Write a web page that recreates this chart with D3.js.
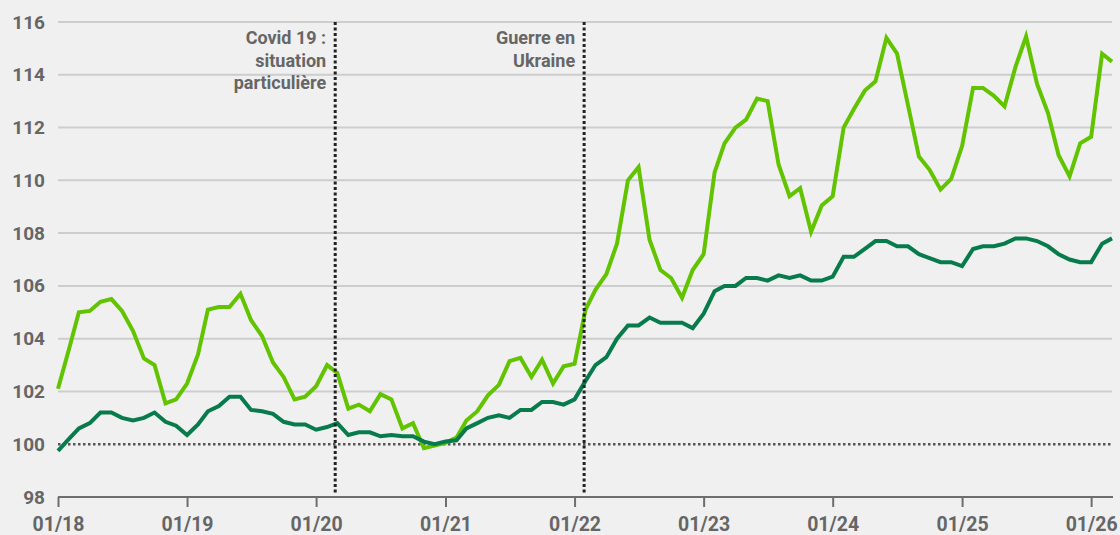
<!DOCTYPE html>
<html>
<head>
<meta charset="utf-8">
<script src="https://cdn.jsdelivr.net/npm/d3@7"></script>
<style>
  html, body { margin: 0; padding: 0; background: #f0f0f0; }
  svg { display: block; font-family: Roboto, "Noto Sans", sans-serif; }
</style>
</head>
<body>
<div id="chart"></div>
<script>
// monthly index values, 01/2018 -> 03/2026
var startMonth = new Date(2018, 0, 1);
var endMonth = new Date(2026, 2, 1);

var lightSeries = [
  102.1, 103.6, 105.0, 105.05, 105.4, 105.5, 105.05, 104.3, 103.25, 103.0,
  101.55, 101.7, 102.3, 103.4, 105.1, 105.2, 105.2, 105.7, 104.7, 104.1,
  103.1, 102.55, 101.7, 101.8, 102.2, 103.0, 102.7, 101.35, 101.5, 101.25,
  101.9, 101.7, 100.6, 100.8, 99.85, 99.95, 100.05, 100.25, 100.9, 101.25,
  101.85, 102.25, 103.15, 103.27, 102.55, 103.2, 102.3, 102.95, 103.05, 105.1,
  105.85, 106.45, 107.6, 110.0, 110.5, 107.75, 106.6, 106.3, 105.55, 106.6,
  107.2, 110.3, 111.4, 112.0, 112.3, 113.1, 113.0, 110.6, 109.4, 109.7,
  108.05, 109.05, 109.4, 112.0, 112.7, 113.4, 113.75, 115.4, 114.8, 112.85,
  110.9, 110.4, 109.65, 110.05, 111.3, 113.5, 113.5, 113.2, 112.8, 114.3,
  115.45, 113.65, 112.55, 110.95, 110.15, 111.4, 111.65, 114.8, 114.5
];

var darkSeries = [
  99.75, 100.2, 100.6, 100.8, 101.2, 101.2, 101.0, 100.9, 101.0, 101.2,
  100.85, 100.7, 100.35, 100.75, 101.25, 101.45, 101.8, 101.8, 101.3, 101.25,
  101.15, 100.85, 100.75, 100.75, 100.55, 100.65, 100.8, 100.35, 100.45, 100.45,
  100.3, 100.35, 100.3, 100.3, 100.1, 100.0, 100.1, 100.15, 100.6, 100.8,
  101.0, 101.1, 101.0, 101.3, 101.3, 101.6, 101.6, 101.5, 101.7, 102.4,
  103.0, 103.3, 104.0, 104.5, 104.5, 104.8, 104.6, 104.6, 104.6, 104.4,
  104.95, 105.8, 106.0, 106.0, 106.3, 106.3, 106.2, 106.4, 106.3, 106.4,
  106.2, 106.2, 106.35, 107.1, 107.1, 107.4, 107.7, 107.7, 107.5, 107.5,
  107.2, 107.05, 106.9, 106.9, 106.75, 107.4, 107.5, 107.5, 107.6, 107.8,
  107.8, 107.7, 107.5, 107.2, 107.0, 106.9, 106.9, 107.6, 107.8
];

var yTicks = [98, 100, 102, 104, 106, 108, 110, 112, 114, 116];
var xTickYears = [2018, 2019, 2020, 2021, 2022, 2023, 2024, 2025, 2026];

var events = [
  { date: new Date(2020, 1, 24), lines: ["Covid 19 :", "situation", "particulière"] },
  { date: new Date(2022, 0, 28), lines: ["Guerre en", "Ukraine"] }
];

var width = 1120, height = 535;
var mLeft = 58, mRight = 1112, mTop = 22, mBottom = 497;

var months = d3.timeMonth.range(startMonth, d3.timeMonth.offset(endMonth, 1));

var x = d3.scaleTime().domain([startMonth, endMonth]).range([mLeft, mRight]);
var y = d3.scaleLinear().domain([98, 116]).range([mBottom, mTop]);

var svg = d3.select("#chart").append("svg")
    .attr("width", width)
    .attr("height", height);

svg.append("rect")
    .attr("width", width).attr("height", height)
    .attr("fill", "#f0f0f0");

// horizontal grid
svg.append("g").selectAll("line")
    .data(yTicks.filter(function(d) { return d > 100; }))
    .enter().append("line")
    .attr("x1", mLeft).attr("x2", mRight)
    .attr("y1", function(d) { return y(d); })
    .attr("y2", function(d) { return y(d); })
    .attr("stroke", "#cdcdcd")
    .attr("stroke-width", 2);

// base 100
svg.append("line")
    .attr("x1", mLeft).attr("x2", mRight)
    .attr("y1", y(100)).attr("y2", y(100))
    .attr("stroke", "#555")
    .attr("stroke-width", 2.5)
    .attr("stroke-dasharray", "2.5 2.5");

// y labels
var yAxis = d3.axisLeft(y).tickValues(yTicks).tickSize(0).tickPadding(0);
var gy = svg.append("g")
    .attr("transform", "translate(45,0)")
    .call(yAxis);
gy.select(".domain").remove();
gy.selectAll("text")
    .attr("fill", "#666")
    .attr("font-size", 19)
    .attr("font-weight", "bold")
    .attr("font-family", "Roboto, sans-serif");

// x axis
var xAxis = d3.axisBottom(x)
    .tickValues(xTickYears.map(function(yr) { return new Date(yr, 0, 1); }))
    .tickFormat(d3.timeFormat("%m/%y"))
    .tickSizeInner(10)
    .tickSizeOuter(0)
    .tickPadding(10);
var gx = svg.append("g")
    .attr("transform", "translate(0," + mBottom + ")")
    .call(xAxis);
gx.select(".domain")
    .attr("stroke", "#6e6e6e")
    .attr("stroke-width", 2)
    .attr("d", "M" + mLeft + ",0H" + (mRight + 1));
gx.selectAll(".tick line")
    .attr("stroke", "#6e6e6e")
    .attr("stroke-width", 2);
gx.selectAll("text")
    .attr("fill", "#666")
    .attr("font-size", 19.5)
    .attr("font-weight", "bold")
    .attr("font-family", "Roboto, sans-serif");

// lines
var line = d3.line()
    .x(function(d, i) { return x(months[i]); })
    .y(function(d) { return y(d); });

svg.append("path")
    .datum(lightSeries)
    .attr("fill", "none")
    .attr("stroke", "#62c300")
    .attr("stroke-width", 4)
    .attr("d", line);

svg.append("path")
    .datum(darkSeries)
    .attr("fill", "none")
    .attr("stroke", "#087b4c")
    .attr("stroke-width", 4)
    .attr("d", line);

// events
var ev = svg.append("g").selectAll("g")
    .data(events)
    .enter().append("g");

ev.append("line")
    .attr("x1", function(d) { return x(d.date); })
    .attr("x2", function(d) { return x(d.date); })
    .attr("y1", mTop)
    .attr("y2", mBottom - 3)
    .attr("stroke", "#222")
    .attr("stroke-width", 3)
    .attr("stroke-dasharray", "3 2.5");

ev.each(function(d) {
  var t = d3.select(this).append("text")
      .attr("text-anchor", "end")
      .attr("fill", "#666")
      .attr("font-size", 18)
      .attr("font-weight", "bold");
  d.lines.forEach(function(s, k) {
    t.append("tspan")
        .attr("x", x(d.date) - 9)
        .attr("y", 44 + k * 22.5)
        .text(s);
  });
});
</script>
</body>
</html>
